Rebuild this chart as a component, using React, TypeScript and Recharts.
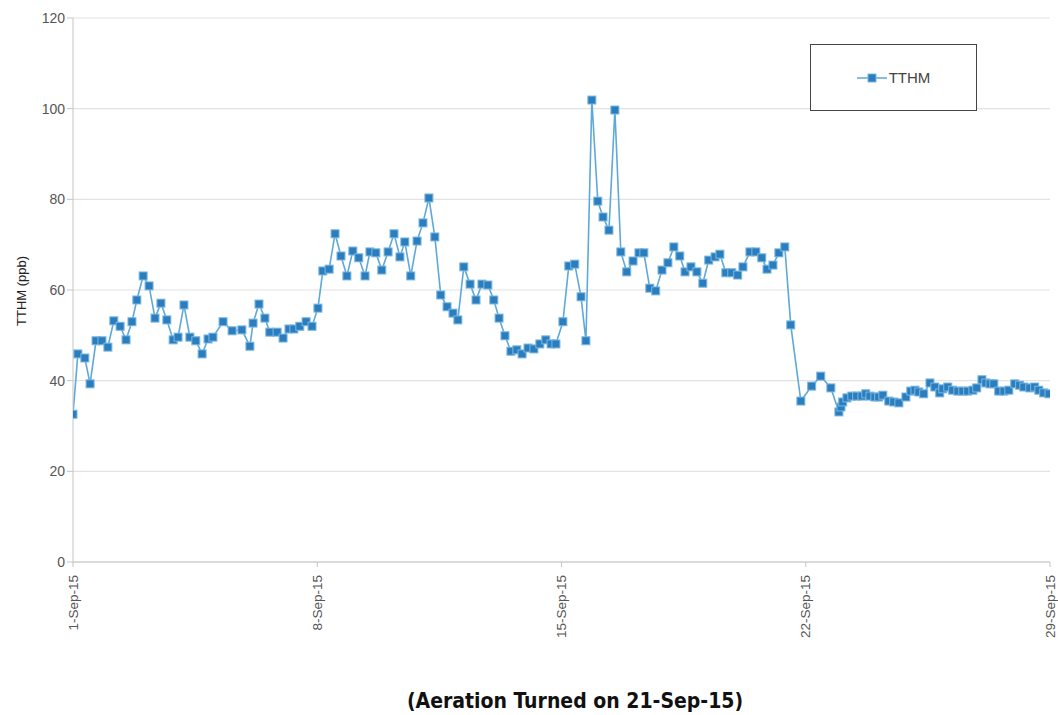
import {
  LineChart,
  Line,
  XAxis,
  YAxis,
  CartesianGrid,
} from "recharts";

// sample time, in day of September 2015 (fractional days)
const days = [
  1.0, 1.14, 1.34, 1.49, 1.66, 1.83, 2.0, 2.17, 2.35, 2.52, 2.69, 2.83, 3.01, 3.18, 3.35, 3.52,
  3.69, 3.87, 4.01, 4.18, 4.35, 4.52, 4.7, 4.87, 5.01, 5.3, 5.56, 5.84, 6.07, 6.16, 6.33, 6.5,
  6.64, 6.85, 7.02, 7.19, 7.33, 7.5, 7.68, 7.85, 8.02, 8.16, 8.34, 8.51, 8.68, 8.85, 9.02, 9.19,
  9.37, 9.51, 9.68, 9.85, 10.03, 10.2, 10.37, 10.51, 10.68, 10.86, 11.03, 11.2, 11.37, 11.54,
  11.72, 11.89, 12.03, 12.2, 12.38, 12.55, 12.72, 12.89, 13.06, 13.21, 13.38, 13.55, 13.72,
  13.87, 14.04, 14.21, 14.38, 14.55, 14.7, 14.84, 15.04, 15.21, 15.38, 15.56, 15.7, 15.87,
  16.04, 16.19, 16.36, 16.53, 16.7, 16.87, 17.05, 17.22, 17.36, 17.53, 17.7, 17.88, 18.05,
  18.22, 18.39, 18.54, 18.71, 18.88, 19.05, 19.22, 19.4, 19.54, 19.71, 19.88, 20.05, 20.2,
  20.4, 20.57, 20.74, 20.89, 21.06, 21.23, 21.4, 21.57, 21.86, 22.17, 22.43, 22.72, 22.95,
  23.01, 23.06, 23.18, 23.32, 23.46, 23.61, 23.72, 23.84, 23.98, 24.09, 24.21, 24.38, 24.52,
  24.67, 24.87, 25.01, 25.13, 25.24, 25.38, 25.56, 25.7, 25.84, 25.93, 26.07, 26.21, 26.36,
  26.5, 26.64, 26.79, 26.9, 27.05, 27.16, 27.28, 27.39, 27.53, 27.68, 27.82, 27.99, 28.13,
  28.25, 28.42, 28.56, 28.68, 28.82, 28.97,
];

// TTHM in ppb
const tthm = [
  32.6, 45.9, 45.0, 39.3, 48.8, 48.8, 47.4, 53.2, 52.0, 49.0, 53.0, 57.8, 63.1, 60.9, 53.8, 57.1,
  53.4, 49.0, 49.6, 56.7, 49.6, 48.8, 45.9, 49.2, 49.6, 53.0, 51.0, 51.2, 47.6, 52.7, 56.9, 53.8,
  50.7, 50.7, 49.4, 51.4, 51.4, 52.0, 53.0, 52.0, 56.0, 64.2, 64.6, 72.4, 67.5, 63.1, 68.6, 67.1,
  63.1, 68.4, 68.2, 64.4, 68.4, 72.4, 67.3, 70.6, 63.1, 70.8, 74.8, 80.3, 71.7, 58.9,
  56.3, 54.9, 53.4, 65.1, 61.3, 57.8, 61.3, 61.1, 57.8, 53.8, 49.9, 46.5, 46.8,
  45.9, 47.2, 47.0, 48.1, 49.0, 48.1, 48.1, 53.0, 65.3, 65.7, 58.5, 48.8, 101.9,
  79.6, 76.1, 73.2, 99.7, 68.4, 64.0, 66.4, 68.2, 68.2, 60.4, 59.8, 64.4, 66.0,
  69.5, 67.5, 64.0, 65.1, 64.0, 61.5, 66.6, 67.3, 67.9, 63.8, 63.8, 63.3, 65.1,
  68.4, 68.4, 67.1, 64.6, 65.5, 68.2, 69.5, 52.3, 35.5, 38.8, 41.0, 38.4, 33.1,
  34.2, 35.3, 36.2, 36.6, 36.6, 36.6, 37.1, 36.6, 36.4, 36.4, 36.8, 35.5, 35.3,
  35.1, 36.4, 37.7, 37.9, 37.5, 37.1, 39.5, 38.6, 37.3, 38.2, 38.6, 37.9, 37.7,
  37.7, 37.7, 37.9, 38.4, 40.2, 39.5, 39.3, 39.3, 37.7, 37.7, 37.9, 39.3, 39.0,
  38.6, 38.4, 38.6, 37.9, 37.3, 37.1,
];

const xTicks = [1, 8, 15, 22, 29];
const yTicks = [0, 20, 40, 60, 80, 100, 120];

const data = days.map((d, i) => ({ day: d, TTHM: tthm[i] }));

const FONT = "'Liberation Sans', Arial, sans-serif";
const LINE = "#5ea9d9";
const MARK = "#2b7dbd";

function SquareDot(props: any) {
  const { cx, cy } = props;
  if (cx == null || cy == null) return null;
  return (
    <rect x={cx - 4} y={cy - 4} width={8} height={8} fill={MARK} stroke="#79b8e2" strokeWidth={1} />
  );
}

function DateTick(props: any) {
  const { x, y, payload } = props;
  return (
    <text
      x={x}
      y={y + 6}
      transform={`rotate(-90 ${x} ${y + 6})`}
      textAnchor="end"
      dominantBaseline="central"
      fontSize={13.5}
      fill="#555"
      fontFamily={FONT}
    >
      {`${payload.value}-Sep-15`}
    </text>
  );
}

function LegendBox() {
  return (
    <div
      style={{
        position: "absolute",
        left: 810,
        top: 44,
        width: 167,
        height: 67,
        border: "1.5px solid #444",
        background: "#fff",
        display: "flex",
        alignItems: "center",
        justifyContent: "center",
        fontFamily: FONT,
        fontSize: 15,
        color: "#444",
        boxSizing: "border-box",
      }}
    >
      <svg width={30} height={10} style={{ marginRight: 2 }}>
        <line x1={0} y1={5} x2={30} y2={5} stroke={LINE} strokeWidth={1.5} />
        <rect x={11} y={1} width={8} height={8} fill={MARK} stroke="#79b8e2" />
      </svg>
      <span>TTHM</span>
    </div>
  );
}

export default function App() {
  return (
    <div style={{ position: "absolute", left: 0, top: 0, width: 1058, height: 715, background: "#fff" }}>
      <LineChart
        width={1058}
        height={715}
        data={data}
        margin={{ top: 18, right: 8, left: 28, bottom: 73 }}
      >
        <CartesianGrid vertical={false} stroke="#e2e2e2" strokeWidth={1.2} />
        <XAxis
          dataKey="day"
          type="number"
          domain={[1, 29]}
          ticks={xTicks}
          tick={<DateTick />}
          interval={0}
          height={80}
          stroke="#c4c4c4"
          tickSize={5}
          tickLine={{ stroke: "#c4c4c4" }}
          allowDataOverflow
        />
        <YAxis
          domain={[0, 120]}
          ticks={yTicks}
          width={45}
          stroke="#c4c4c4"
          tickSize={6}
          tick={{ fontSize: 14, fill: "#555", fontFamily: FONT }}
          label={{
            value: "TTHM (ppb)",
            angle: -90,
            position: "insideLeft",
            dx: -12,
            dy: 36,
            style: { fontSize: 13, fill: "#222", fontFamily: FONT },
          }}
        />
        <Line
          type="linear"
          dataKey="TTHM"
          stroke={LINE}
          strokeWidth={1.6}
          dot={<SquareDot />}
          activeDot={false}
          isAnimationActive={false}
        />
      </LineChart>
      <LegendBox />
      <div
        style={{
          position: "absolute",
          left: 0,
          width: 1150,
          top: 689,
          textAlign: "center",
          fontFamily: "'DejaVu Sans Condensed', 'Liberation Sans Narrow', sans-serif",
          fontWeight: "bold",
          fontSize: 21,
          color: "#111",
        }}
      >
        (Aeration Turned on 21-Sep-15)
      </div>
    </div>
  );
}
